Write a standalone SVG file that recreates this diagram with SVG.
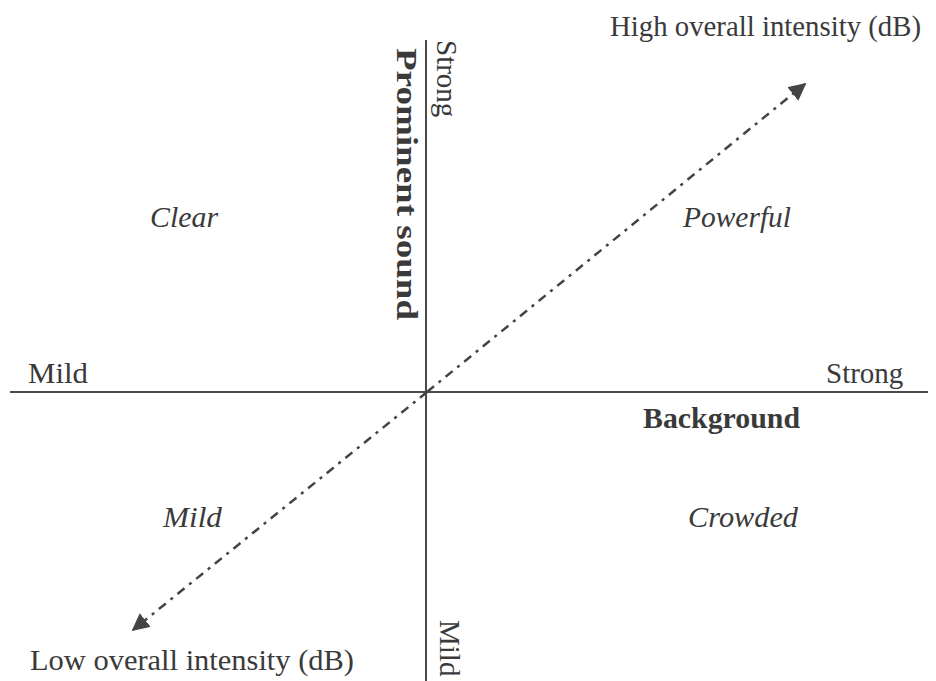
<svg xmlns="http://www.w3.org/2000/svg" width="936" height="681" viewBox="0 0 936 681">
  <style>
    .lbl { font-family: "Liberation Serif", "Times New Roman", serif; font-size: 29px; fill: #3a3a3a; }
    .it { font-style: italic; }
    .bd { font-weight: bold; }
    .axis { stroke: #4a4a4a; stroke-width: 2; fill: none; }
    .diag { stroke: #444; stroke-width: 2.5; fill: none; stroke-dasharray: 9 6 3 6; }
  </style>
  <defs>
    <marker id="head" viewBox="0 0 10 10" refX="9" refY="5" markerWidth="7" markerHeight="7" markerUnits="strokeWidth" orient="auto">
      <path d="M0,0 L10,5 L0,10 Z" fill="#444"/>
    </marker>
  </defs>
  <rect width="936" height="681" fill="#fff"/>

  <g id="connectors">
    <line class="axis" x1="426" y1="40" x2="426" y2="681"/>
    <line class="axis" x1="10" y1="392" x2="928" y2="392"/>
    <line class="diag" x1="427" y1="392" x2="805" y2="84" marker-end="url(#head)"/>
    <line class="diag" x1="427" y1="392" x2="133" y2="630" marker-end="url(#head)"/>
  </g>

  <g id="axis-prominent">
    <text class="lbl bd" transform="translate(397,48) rotate(90)" textLength="272" lengthAdjust="spacingAndGlyphs">Prominent sound</text>
    <text class="lbl" transform="translate(437,40) rotate(90)">Strong</text>
    <text class="lbl" transform="translate(440,620) rotate(90)">Mild</text>
  </g>

  <g id="axis-background">
    <text class="lbl" x="28" y="383" textLength="60" lengthAdjust="spacingAndGlyphs">Mild</text>
    <text class="lbl" x="826" y="383">Strong</text>
    <text class="lbl bd" x="643" y="428" textLength="157" lengthAdjust="spacingAndGlyphs">Background</text>
  </g>

  <g id="intensity">
    <text class="lbl" x="610" y="36" textLength="311" lengthAdjust="spacingAndGlyphs">High overall intensity (dB)</text>
    <text class="lbl" x="30" y="670" textLength="324" lengthAdjust="spacingAndGlyphs">Low overall intensity (dB)</text>
  </g>

  <g id="quadrant-clear"><text class="lbl it" x="150" y="227" textLength="68" lengthAdjust="spacingAndGlyphs">Clear</text></g>
  <g id="quadrant-powerful"><text class="lbl it" x="683" y="227" textLength="108" lengthAdjust="spacingAndGlyphs">Powerful</text></g>
  <g id="quadrant-mild"><text class="lbl it" x="163" y="527" textLength="59" lengthAdjust="spacingAndGlyphs">Mild</text></g>
  <g id="quadrant-crowded"><text class="lbl it" x="688" y="527" textLength="110" lengthAdjust="spacingAndGlyphs">Crowded</text></g>
</svg>
